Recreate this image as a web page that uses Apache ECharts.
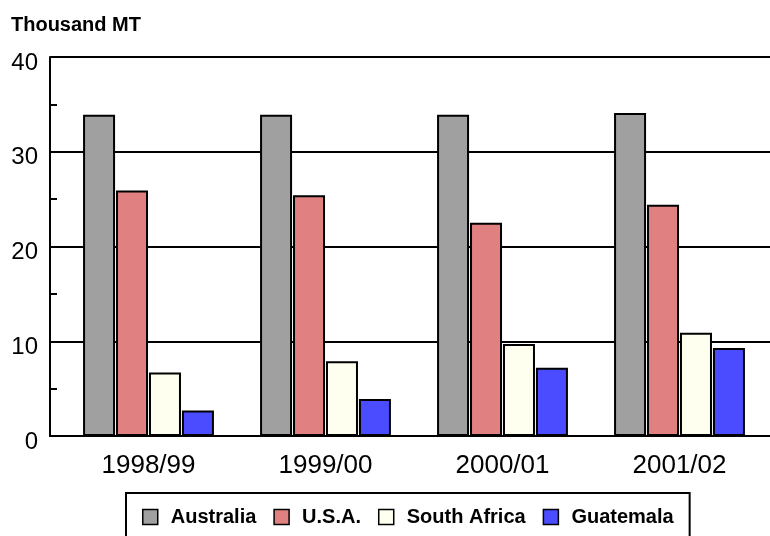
<!DOCTYPE html>
<html>
<head>
<meta charset="utf-8">
<script src="https://cdn.jsdelivr.net/npm/echarts@6/dist/echarts.min.js"></script>
<style>
  html, body { margin: 0; padding: 0; background: #fff; }
  #chart { width: 770px; height: 536px; }
</style>
</head>
<body>
<div id="chart"></div>
<script>
const categories = ['1998/99', '1999/00', '2000/01', '2001/02'];
const australia = [33.9, 33.9, 33.9, 34.1];
const usa = [25.9, 25.4, 22.5, 24.4];
const southAfrica = [6.7, 7.9, 9.7, 10.9];
const guatemala = [2.7, 3.9, 7.2, 9.3];
const yTicks = [0, 10, 20, 30, 40];

const font = "'Liberation Sans', Arial, sans-serif";

const chart = echarts.init(document.getElementById('chart'));

const makeBar = (name, data, color) => ({
  name: name,
  type: 'bar',
  xAxisIndex: 1,
  yAxisIndex: 1,
  data: data,
  barWidth: 32,
  barGap: '3%',
  itemStyle: { color: color, borderColor: '#000', borderWidth: 2 }
});

const options = {
  animation: false,
  backgroundColor: '#fff',
  textStyle: { fontFamily: font },
  title: {
    text: 'Thousand MT',
    left: 11,
    top: 15,
    padding: 0,
    textStyle: { fontFamily: font, fontSize: 20, fontWeight: 'bold', color: '#000' }
  },
  legend: {
    left: 126,
    top: 493,
    padding: [14, 16, 20, 16],
    borderColor: '#000',
    borderWidth: 2,
    itemWidth: 15,
    itemHeight: 15,
    itemGap: 17,
    icon: 'rect',
    itemStyle: { borderColor: '#000', borderWidth: 1.5 },
    textStyle: {
      fontFamily: font,
      fontSize: 20,
      fontWeight: 'bold',
      color: '#000',
      padding: [4, 0, 0, 8]
    },
    data: ['Australia', 'U.S.A.', 'South Africa', 'Guatemala']
  },
  grid: [
    { left: 50, right: 0, top: 57, bottom: 100 },
    { left: 60, right: 2, top: 57, bottom: 100 }
  ],
  xAxis: [
    {
      type: 'value',
      gridIndex: 0,
      min: 0,
      max: 1,
      axisLine: { show: true, onZero: false, lineStyle: { color: '#000', width: 2 } },
      axisTick: { show: false },
      axisLabel: { show: false },
      splitLine: { show: false }
    },
    {
      type: 'category',
      gridIndex: 1,
      data: categories,
      axisLine: { show: false },
      axisTick: { show: false },
      axisLabel: {
        color: '#000',
        fontFamily: font,
        fontSize: 26,
        margin: 17
      },
      splitLine: { show: false }
    }
  ],
  yAxis: [
    {
      type: 'value',
      gridIndex: 0,
      min: yTicks[0],
      max: yTicks[yTicks.length - 1],
      interval: 10,
      axisLine: { show: true, lineStyle: { color: '#000', width: 2 } },
      axisTick: { show: false },
      axisLabel: {
        color: '#000',
        fontFamily: font,
        fontSize: 24,
        margin: 12,
        formatter: '{a|{value}}',
        rich: {
          a: { fontFamily: font, fontSize: 24, color: '#000', padding: [12, 0, 0, 0] }
        }
      },
      splitLine: { show: true, lineStyle: { color: '#000', width: 2 } }
    },
    {
      type: 'value',
      gridIndex: 1,
      min: yTicks[0],
      max: yTicks[yTicks.length - 1],
      interval: 10,
      show: false
    },
    {
      // inner half-step ticks on the left axis
      type: 'value',
      gridIndex: 0,
      position: 'left',
      min: yTicks[0],
      max: yTicks[yTicks.length - 1],
      interval: 5,
      axisLine: { show: false },
      axisTick: { show: true, inside: true, length: 7, lineStyle: { color: '#000', width: 2 } },
      axisLabel: { show: false },
      splitLine: { show: false }
    }
  ],
  series: [
    makeBar('Australia', australia, '#a0a0a0'),
    makeBar('U.S.A.', usa, '#e08080'),
    makeBar('South Africa', southAfrica, '#fffff0'),
    makeBar('Guatemala', guatemala, '#4b4bff')
  ]
};

chart.setOption(options);
</script>
</body>
</html>
